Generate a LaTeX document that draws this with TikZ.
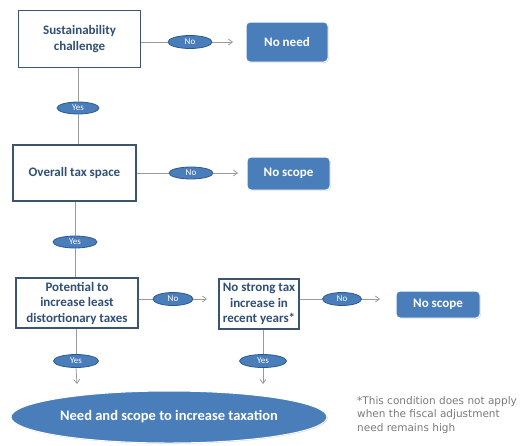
\documentclass[tikz,border=0pt]{standalone}
\usepackage{fontspec}
\setmainfont{Carlito}
\newfontfamily\notefont{DejaVu Sans}
\usetikzlibrary{shapes.geometric,arrows.meta,shadows}
\definecolor{boxedge}{HTML}{3C5470}
\definecolor{boxtext}{HTML}{2F4F75}
\definecolor{bluefill}{HTML}{4A7EBB}
\definecolor{blueedge}{HTML}{2C5A8C}
\definecolor{linegray}{HTML}{9A9A9A}
\definecolor{notegray}{HTML}{7A7A7A}
\tikzset{
  x=1pt,y=-1pt,
  qbox/.style={draw=boxedge,line width=1.3pt,fill=white,text=boxtext,font=\bfseries\fontsize{13}{15.5}\selectfont,align=center,inner sep=0pt},
  endbox/.style={draw=white,line width=1pt,rounded corners=4pt,fill=bluefill,text=white,font=\bfseries\fontsize{13}{15}\selectfont,align=center,inner sep=0pt,drop shadow={shadow xshift=0.8pt,shadow yshift=-0.8pt,opacity=0.35}},
  tag/.style={ellipse,draw=blueedge,line width=0.8pt,fill=bluefill,text=white,font=\fontsize{9}{10}\selectfont,inner sep=0pt},
  conn/.style={draw=linegray,line width=0.8pt},
  arr/.style={conn,-{Straight Barb[length=4pt,width=6pt]}},
}
\begin{document}
\begin{tikzpicture}
\useasboundingbox (0,0) rectangle (529,445);
% boxes
\node[qbox,minimum width=122,minimum height=57] (b1) at (79.5,39) {Sustainability\\challenge};
\node[qbox,minimum width=123,minimum height=56] (b2) at (74.5,173) {Overall tax space};
\node[qbox,minimum width=122,minimum height=50] (b3) at (77,303) {Potential to\\increase least\\distortionary taxes};
\node[qbox,minimum width=80,minimum height=50] (b4) at (259,304) {No strong tax\\increase in\\recent years*};
% end boxes
\node[endbox,minimum width=82,minimum height=40] (e1) at (287,42) {No need};
\node[endbox,minimum width=83,minimum height=33] (e2) at (288.5,173.5) {No scope};
\node[endbox,minimum width=84,minimum height=27] (e3) at (438,304.5) {No scope};
% tags
\node[tag,minimum width=44,minimum height=13] (n1) at (190,42) {No};
\node[tag,minimum width=44,minimum height=12] (n2) at (191,173) {No};
\node[tag,minimum width=40,minimum height=13] (n3) at (173,299) {No};
\node[tag,minimum width=39,minimum height=13] (n4) at (342,299) {No};
\node[tag,minimum width=42,minimum height=12] (y1) at (78,108) {Yes};
\node[tag,minimum width=44,minimum height=12] (y2) at (75,242) {Yes};
\node[tag,minimum width=45,minimum height=13] (y3) at (76,361) {Yes};
\node[tag,minimum width=47,minimum height=13] (y4) at (263,361) {Yes};
% big result
\node[ellipse,draw=white,line width=1pt,fill=bluefill,text=white,font=\bfseries\fontsize{14.5}{16}\selectfont,minimum width=316,minimum height=52,inner sep=0pt,drop shadow={shadow xshift=0.8pt,shadow yshift=-0.8pt,opacity=0.35}] (res) at (169,417) {Need and scope to increase taxation};
% footnote
\node[anchor=north west,align=left,text=notegray,font=\notefont\fontsize{10.5}{13.5}\selectfont,inner sep=0pt] (fn) at (357,396) {*This condition does not apply\\when the fiscal adjustment\\need remains high};
% coordinates for arrow ends
\coordinate (a1) at (233,42);
\coordinate (a2) at (238,173);
\coordinate (a3) at (207,299);
\coordinate (a4) at (380,299);
\coordinate (a5) at (77,384);
\coordinate (a6) at (263,384);
% connectors
\draw[conn] (b1.east |- n1) -- (n1.west);
\draw[arr] (n1.east) -- (a1);
\draw[conn] (b2.east |- n2) -- (n2.west);
\draw[arr] (n2.east) -- (a2);
\draw[conn] (b3.east |- n3) -- (n3.west);
\draw[arr] (n3.east) -- (a3);
\draw[conn] (b4.east |- n4) -- (n4.west);
\draw[arr] (n4.east) -- (a4);
\draw[conn] (b1.south -| y1) -- (y1.north);
\draw[conn] (y1.south) -- (b2.north -| y1);
\draw[conn] (b2.south -| y2) -- (y2.north);
\draw[conn] (y2.south) -- (b3.north -| y2);
\draw[conn] (b3.south -| y3) -- (y3.north);
\draw[arr] (y3.south) -- (a5);
\draw[conn] (b4.south -| y4) -- (y4.north);
\draw[arr] (y4.south) -- (a6);
\end{tikzpicture}
\end{document}
